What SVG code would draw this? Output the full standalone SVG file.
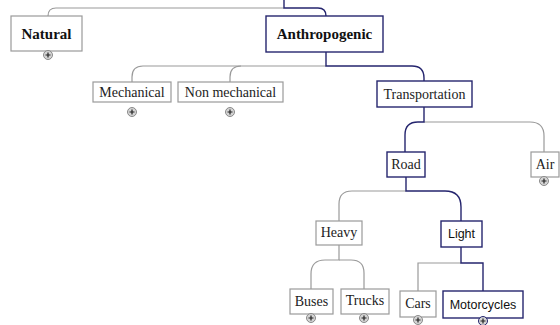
<svg xmlns="http://www.w3.org/2000/svg" width="560" height="325" viewBox="0 0 560 325">
<style>
.bg{fill:#fff}
.g{fill:#fff;stroke:#9a9a9a;stroke-width:1.2}
.n{fill:#fff;stroke:#25256e;stroke-width:1.4}
.cg{fill:none;stroke:#9a9a9a;stroke-width:1.2}
.cn{fill:none;stroke:#25256e;stroke-width:1.4}
.t{font-family:"Liberation Serif","Times New Roman",serif;font-size:14px;fill:#222;text-anchor:middle}
.tb{font-family:"Liberation Serif","Times New Roman",serif;font-size:15px;font-weight:bold;fill:#111;text-anchor:middle}
.ts{font-family:"Liberation Sans",Arial,sans-serif;font-size:12.5px;fill:#111;text-anchor:middle}
.pc{fill:#d4d4d4;stroke:#8a8a8a;stroke-width:1}
.pcn{fill:#d4d4d4;stroke:#25256e;stroke-width:1}
.pl{stroke:#222;stroke-width:1.2}
</style>
<defs>
<g id="plus"><circle r="4.5" class="pc"/><path d="M-2.5,0H2.5M0,-2.5V2.5" class="pl"/></g>
<g id="plusn"><circle r="4.5" class="pcn"/><path d="M-2.5,0H2.5M0,-2.5V2.5" class="pl"/></g>
</defs>
<rect class="bg" width="560" height="325"/>
<g id="connectors">
<path class="cg" d="M284,8H56Q48,8 48,16"/>
<path class="cn" d="M284,0V8H318Q326,8 326,16"/>
<path class="cg" d="M326,66H241Q230,66 230,77V82"/>
<path class="cg" d="M241,66H143Q132,66 132,77V82"/>
<path class="cn" d="M326,52V66H412Q424,66 424,78V81"/>
<path class="cg" d="M424,122H530Q544,122 544,136V152"/>
<path class="cn" d="M424,107V122H418Q405,122 405,135V152"/>
<path class="cg" d="M406,191H352Q339,191 339,204V221"/>
<path class="cn" d="M406,177V191H445Q461,191 461,207V221"/>
<path class="cg" d="M339,245V260H325Q311,260 311,274V289"/>
<path class="cg" d="M339,260H351Q364,260 364,273V289"/>
<path class="cg" d="M461,263H418V291"/>
<path class="cn" d="M461,247V263H483V291"/>
</g>
<g id="natural"><rect class="g" x="11" y="16" width="71" height="35"/><text class="tb" x="46.5" y="39">Natural</text><use href="#plus" x="48" y="55"/></g>
<g id="anthropogenic"><rect class="n" x="266" y="16" width="117" height="36"/><text class="tb" x="324.5" y="39">Anthropogenic</text></g>
<g id="mechanical"><rect class="g" x="93" y="82" width="78" height="20"/><text class="t" x="132" y="97">Mechanical</text><use href="#plus" x="132" y="112"/></g>
<g id="nonmechanical"><rect class="g" x="178" y="82" width="105" height="20"/><text class="t" x="230.5" y="97">Non mechanical</text><use href="#plus" x="230" y="112"/></g>
<g id="transportation"><rect class="n" x="377" y="81" width="95" height="26"/><text class="t" x="424.5" y="98.5">Transportation</text></g>
<g id="road"><rect class="n" x="387" y="152" width="38" height="25"/><text class="t" x="406" y="168.5">Road</text></g>
<g id="air"><rect class="g" x="531" y="152" width="28" height="25"/><text class="t" x="545" y="168.5">Air</text><use href="#plus" x="544" y="181"/></g>
<g id="heavy"><rect class="g" x="316" y="221" width="46" height="24"/><text class="t" x="339" y="236.5">Heavy</text></g>
<g id="light"><rect class="n" x="441" y="221" width="41" height="26"/><text class="ts" x="461.5" y="238">Light</text></g>
<g id="buses"><rect class="g" x="290" y="289" width="43" height="25"/><text class="t" x="311.5" y="305.5">Buses</text><use href="#plus" x="311" y="318"/></g>
<g id="trucks"><rect class="g" x="341" y="289" width="48" height="25"/><text class="t" x="365" y="305">Trucks</text><use href="#plus" x="364" y="318"/></g>
<g id="cars"><rect class="g" x="400" y="291" width="36" height="26"/><text class="t" x="418" y="307.5">Cars</text><use href="#plus" x="418" y="320"/></g>
<g id="motorcycles"><rect class="n" x="443" y="291" width="80" height="27"/><text class="ts" x="483" y="308.5">Motorcycles</text><use href="#plusn" x="483" y="321"/></g>
</svg>
